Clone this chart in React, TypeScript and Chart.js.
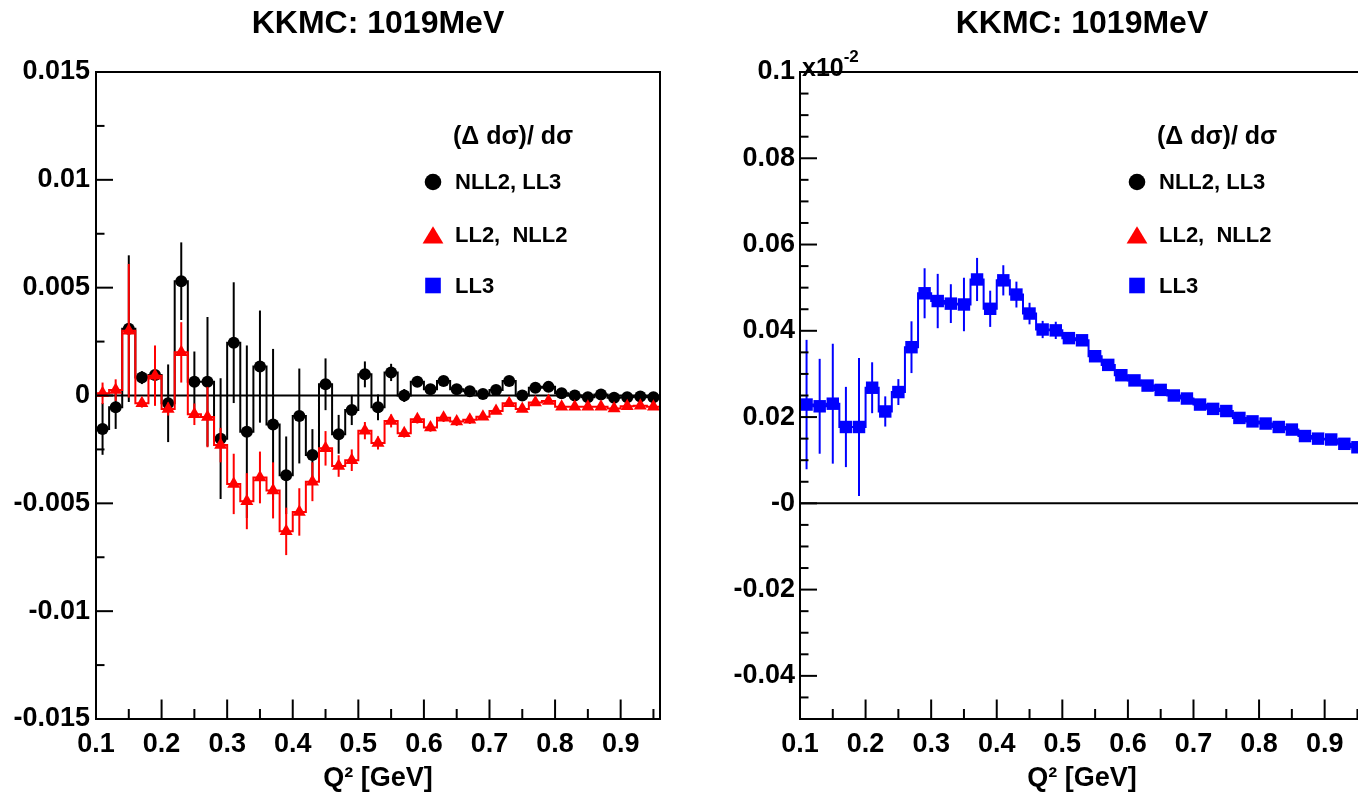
import React, { useEffect, useRef } from 'react';
import { Chart, registerables } from 'chart.js';

Chart.register(...registerables);

const FONT = '"Liberation Sans", Arial, Helvetica, sans-serif';

// ---------- data ----------
const TITLE = 'KKMC: 1019MeV';
const X_TITLE = 'Q\u00B2 [GeV]';
const LEGEND_HEADER = '(\u0394 d\u03C3)/ d\u03C3';
const LEGEND_ENTRIES = ['NLL2, LL3', 'LL2,  NLL2', 'LL3'];

const X_MIN = 0.1;
const X_MAX = 0.96;

const BIN_CENTERS = [
  0.11, 0.13, 0.15, 0.17, 0.19, 0.21, 0.23, 0.25, 0.27, 0.29,
  0.31, 0.33, 0.35, 0.37, 0.39, 0.41, 0.43, 0.45, 0.47, 0.49,
  0.51, 0.53, 0.55, 0.57, 0.59, 0.61, 0.63, 0.65, 0.67, 0.69,
  0.71, 0.73, 0.75, 0.77, 0.79, 0.81, 0.83, 0.85, 0.87, 0.89,
  0.91, 0.93, 0.95,
];

// NLL2, LL3 (black circles, left panel)
const NLL2_LL3 = [
  -0.00155, -0.00055, 0.0031, 0.00083, 0.00095, -0.00036, 0.0053, 0.00064, 0.00064, -0.002,
  0.00245, -0.00168, 0.00134, -0.00134, -0.0037, -0.00095, -0.00276, 0.00052, -0.0018, -0.00067,
  0.00098, -0.00055, 0.00107, 0.0, 0.00064, 0.00029, 0.00067, 0.00029, 0.0002, 0.00007,
  0.00025, 0.00067, 0.0, 0.00036, 0.0004, 0.0001, 0.0, -0.00008, 0.00005, -0.0001,
  -0.00008, -0.00005, -0.00008,
];
const NLL2_LL3_ERR = [
  0.0012, 0.001, 0.0034, 0.0003, 0.0002, 0.0018, 0.0018, 0.0014, 0.003, 0.0028,
  0.0028, 0.004, 0.0026, 0.0035, 0.0018, 0.0022, 0.0012, 0.0012, 0.0009, 0.0007,
  0.0006, 0.0006, 0.0004, 0.0003, 0.0002, 0.0002, 0.0002, 0.0002, 0.0002, 0.0002,
  0.0002, 0.0002, 0.0002, 0.0001, 0.0001, 0.0001, 0.0001, 0.0001, 0.0001, 0.0001,
  0.0001, 0.0001, 0.0001,
];

// LL2, NLL2 (red triangles, left panel)
const LL2_NLL2 = [
  0.0001, 0.00025, 0.003, -0.00036, 0.00092, -0.00063, 0.002, -0.00087, -0.001, -0.0023,
  -0.0041, -0.0049, -0.0038, -0.0044, -0.0063, -0.0054, -0.004, -0.00245, -0.00327, -0.003,
  -0.00163, -0.0022, -0.00118, -0.00175, -0.0011, -0.00148, -0.00103, -0.00121, -0.00112, -0.00098,
  -0.00072, -0.00036, -0.00063, -0.00032, -0.00026, -0.00052, -0.00052, -0.00052, -0.00052, -0.0006,
  -0.0005, -0.00047, -0.00052,
];
const LL2_NLL2_ERR = [
  0.0005, 0.0005, 0.0031, 0.0002, 0.0014, 0.0003, 0.0014, 0.0005, 0.0014, 0.0008,
  0.0014, 0.0013, 0.0012, 0.0013, 0.0011, 0.0011, 0.0009, 0.0008, 0.0005, 0.0005,
  0.0004, 0.0003, 0.0003, 0.0002, 0.0002, 0.0002, 0.0002, 0.0002, 0.0002, 0.0001,
  0.0001, 0.0001, 0.0001, 0.0001, 0.0001, 0.0001, 0.0001, 0.0001, 0.0001, 0.0001,
  0.0001, 0.0001, 0.0001,
];

// LL3 (blue squares, right panel, in units of 10^-2)
const LL3 = [
  0.0229, 0.0225, 0.0231, 0.0177, 0.0177, 0.0268, 0.0213, 0.0258, 0.0362, 0.0487,
  0.0469, 0.0463, 0.0461, 0.0519, 0.0451, 0.0517, 0.0484, 0.044, 0.0403, 0.0401,
  0.0383, 0.0378, 0.0341, 0.0321, 0.0297, 0.0285, 0.0273, 0.0263, 0.025, 0.0243,
  0.0229, 0.0219, 0.0214, 0.0198, 0.019, 0.0185, 0.0177, 0.0171, 0.0156, 0.015,
  0.0148, 0.0138, 0.013,
];
const LL3_ERR = [
  0.015, 0.011, 0.0139, 0.0093, 0.016, 0.0059, 0.0035, 0.003, 0.006, 0.0058,
  0.0063, 0.0045, 0.0062, 0.005, 0.0042, 0.0035, 0.003, 0.0025, 0.002, 0.002,
  0.0012, 0.001, 0.0008, 0.0008, 0.0008, 0.0008, 0.0008, 0.0008, 0.0008, 0.0008,
  0.0008, 0.0008, 0.0008, 0.0008, 0.0008, 0.0008, 0.0008, 0.0008, 0.0008, 0.0008,
  0.0008, 0.0008, 0.0008,
];

// ticks
const X_TICKS = [0.1, 0.15, 0.2, 0.25, 0.3, 0.35, 0.4, 0.45, 0.5, 0.55, 0.6, 0.65, 0.7, 0.75, 0.8, 0.85, 0.9, 0.95];
const X_LABEL_VALUES = [0.1, 0.2, 0.3, 0.4, 0.5, 0.6, 0.7, 0.8, 0.9];
const X_LABELS = ['0.1', '0.2', '0.3', '0.4', '0.5', '0.6', '0.7', '0.8', '0.9'];

const LEFT_Y_MIN = -0.015;
const LEFT_Y_MAX = 0.015;
const LEFT_Y_TICKS = [-0.015, -0.0125, -0.01, -0.0075, -0.005, -0.0025, 0, 0.0025, 0.005, 0.0075, 0.01, 0.0125, 0.015];
const LEFT_Y_LABEL_VALUES = [0.015, 0.01, 0.005, 0, -0.005, -0.01, -0.015];
const LEFT_Y_LABELS = ['0.015', '0.01', '0.005', '0', '-0.005', '-0.01', '-0.015'];

const RIGHT_Y_MIN = -0.05;
const RIGHT_Y_MAX = 0.1;
const RIGHT_Y_TICKS = [
  -0.05, -0.045, -0.04, -0.035, -0.03, -0.025, -0.02, -0.015, -0.01, -0.005,
  0, 0.005, 0.01, 0.015, 0.02, 0.025, 0.03, 0.035, 0.04, 0.045,
  0.05, 0.055, 0.06, 0.065, 0.07, 0.075, 0.08, 0.085, 0.09, 0.095, 0.1,
];
const RIGHT_Y_LABEL_VALUES = [0.1, 0.08, 0.06, 0.04, 0.02, 0, -0.02, -0.04];
const RIGHT_Y_LABELS = ['0.1', '0.08', '0.06', '0.04', '0.02', '-0', '-0.02', '-0.04'];
const RIGHT_EXPONENT_BASE = 'x10';
const RIGHT_EXPONENT_POWER = '-2';

// ---------- helpers ----------
function labelFor(v: number, vals: number[], labels: string[]): string {
  for (let i = 0; i < vals.length; i++) if (Math.abs(vals[i] - v) < 1e-9) return labels[i];
  return '';
}

function stepPoints(values: number[]) {
  const pts = BIN_CENTERS.map((x, i) => ({ x, y: values[i] }));
  return [{ x: X_MIN, y: values[0] }, ...pts, { x: X_MAX, y: values[values.length - 1] }];
}

type Series = { values: number[]; errors: number[]; color: string; pointStyle: string; radius: number };

type PanelCfg = {
  series: Series[];
  yMin: number;
  yMax: number;
  yTicks: number[];
  yLabelValues: number[];
  yLabels: string[];
  yAxisWidth: number;
  yPadding: number;
  padRight: number;
  exponent: boolean;
};

function drawMarker(ctx: CanvasRenderingContext2D, kind: string, cx: number, cy: number, color: string) {
  ctx.fillStyle = color;
  ctx.beginPath();
  if (kind === 'circle') {
    ctx.arc(cx, cy, 8.3, 0, Math.PI * 2);
  } else if (kind === 'triangle') {
    ctx.moveTo(cx, cy - 8.7);
    ctx.lineTo(cx + 10.4, cy + 8.5);
    ctx.lineTo(cx - 10.4, cy + 8.5);
    ctx.closePath();
  } else {
    ctx.rect(cx - 7.8, cy - 7.8, 15.6, 15.6);
  }
  ctx.fill();
}

function makeRootPlugin(p: PanelCfg) {
  return {
    id: 'rootStyle',
    beforeDatasetsDraw(chart: any) {
      const { ctx, chartArea: a, scales } = chart;
      const y0 = scales.y.getPixelForValue(0);
      ctx.save();
      ctx.strokeStyle = '#000';
      ctx.lineWidth = 2;
      ctx.beginPath();
      ctx.moveTo(a.left, y0);
      ctx.lineTo(a.right, y0);
      ctx.stroke();
      ctx.restore();
    },
    beforeDatasetDraw(chart: any, args: any) {
      const ds: any = chart.data.datasets[args.index];
      if (!ds.errors) return;
      const { ctx, chartArea: a, scales } = chart;
      ctx.save();
      ctx.beginPath();
      ctx.rect(a.left, a.top, a.right - a.left, a.bottom - a.top);
      ctx.clip();
      ctx.strokeStyle = ds.backgroundColor;
      ctx.lineWidth = 2;
      ds.data.forEach((pt: any, i: number) => {
        const e = ds.errors[i];
        const px = scales.x.getPixelForValue(pt.x);
        ctx.beginPath();
        ctx.moveTo(px, scales.y.getPixelForValue(pt.y - e));
        ctx.lineTo(px, scales.y.getPixelForValue(pt.y + e));
        ctx.stroke();
      });
      ctx.restore();
    },
    afterDraw(chart: any) {
      const { ctx, chartArea: a, scales } = chart;
      ctx.save();
      ctx.strokeStyle = '#000';
      ctx.lineWidth = 2;
      for (const v of p.yTicks) {
        const py = scales.y.getPixelForValue(v);
        const major = labelFor(v, p.yLabelValues, p.yLabels) !== '';
        const len = major ? 17 : 8.5;
        ctx.beginPath();
        ctx.moveTo(a.left, py);
        ctx.lineTo(a.left + len, py);
        ctx.stroke();
      }
      for (const v of X_TICKS) {
        const px = scales.x.getPixelForValue(v);
        const major = labelFor(v, X_LABEL_VALUES, X_LABELS) !== '';
        const len = major ? 19.5 : 10;
        ctx.beginPath();
        ctx.moveTo(px, a.bottom);
        ctx.lineTo(px, a.bottom - len);
        ctx.stroke();
      }
      ctx.strokeRect(a.left, a.top, a.right - a.left, a.bottom - a.top);

      // legend
      const L = a.left;
      ctx.fillStyle = '#000';
      ctx.textAlign = 'left';
      ctx.textBaseline = 'middle';
      ctx.font = `bold 25px ${FONT}`;
      ctx.fillText(LEGEND_HEADER, L + 357, 137);
      const kinds = ['circle', 'triangle', 'rect'];
      const colors = ['#000000', '#ff0000', '#0000ff'];
      const ys = [182, 235, 285.5];
      LEGEND_ENTRIES.forEach((t, i) => {
        drawMarker(ctx, kinds[i], L + 337, ys[i], colors[i]);
        ctx.fillStyle = '#000';
        ctx.font = `bold 22px ${FONT}`;
        ctx.fillText(t, L + 359, ys[i] + 1);
      });

      if (p.exponent) {
        ctx.textBaseline = 'alphabetic';
        ctx.font = `bold 25px ${FONT}`;
        ctx.fillText(RIGHT_EXPONENT_BASE, L + 2, 76);
        const w = ctx.measureText(RIGHT_EXPONENT_BASE).width;
        ctx.font = `bold 17px ${FONT}`;
        ctx.fillText(RIGHT_EXPONENT_POWER, L + 2 + w, 62);
      }
      ctx.restore();
    },
  };
}

function buildConfig(p: PanelCfg): any {
  const datasets: any[] = [];
  p.series.forEach((s, i) => {
    datasets.push({
      type: 'scatter',
      data: stepPoints(s.values),
      showLine: true,
      stepped: 'middle',
      borderColor: s.color,
      borderWidth: 2,
      pointRadius: 0,
      pointHoverRadius: 0,
      fill: false,
      order: 100 - 2 * i,
    });
    datasets.push({
      type: 'scatter',
      data: BIN_CENTERS.map((x, j) => ({ x, y: s.values[j] })),
      showLine: false,
      pointStyle: s.pointStyle,
      pointRadius: s.radius,
      pointHoverRadius: s.radius,
      backgroundColor: s.color,
      borderColor: s.color,
      borderWidth: 0,
      order: 99 - 2 * i,
      errors: s.errors,
    });
  });
  const tickFont = { family: FONT, size: 27, weight: 'bold' as const };
  return {
    type: 'scatter',
    data: { datasets },
    plugins: [makeRootPlugin(p)],
    options: {
      responsive: false,
      animation: false,
      devicePixelRatio: 1,
      events: [],
      layout: { padding: { left: 0, right: p.padRight, top: 0, bottom: 0 } },
      plugins: {
        legend: { display: false },
        tooltip: { enabled: false },
        title: {
          display: true,
          text: TITLE,
          color: '#000',
          fullSize: false,
          font: { family: FONT, size: 32, weight: 'bold' },
          padding: { top: 5, bottom: 28.6 },
        },
      },
      scales: {
        x: {
          type: 'linear',
          min: X_MIN,
          max: X_MAX,
          afterBuildTicks: (s: any) => {
            s.ticks = X_TICKS.map((v) => ({ value: v }));
          },
          afterFit: (s: any) => {
            s.height = 80;
          },
          grid: { display: false, drawTicks: false },
          border: { display: false },
          ticks: {
            autoSkip: false,
            maxRotation: 0,
            minRotation: 0,
            padding: 9,
            color: '#000',
            font: tickFont,
            callback: (v: any) => labelFor(Number(v), X_LABEL_VALUES, X_LABELS),
          },
          title: {
            display: true,
            text: X_TITLE,
            color: '#000',
            font: tickFont,
            padding: { top: 0, bottom: 4 },
          },
        },
        y: {
          type: 'linear',
          min: p.yMin,
          max: p.yMax,
          afterBuildTicks: (s: any) => {
            s.ticks = p.yTicks.map((v) => ({ value: v }));
          },
          afterFit: (s: any) => {
            s.width = p.yAxisWidth;
          },
          grid: { display: false, drawTicks: false },
          border: { display: false },
          ticks: {
            autoSkip: false,
            padding: p.yPadding,
            color: '#000',
            font: tickFont,
            callback: (v: any) => labelFor(Number(v), p.yLabelValues, p.yLabels),
          },
        },
      },
    },
  };
}

const LEFT_PANEL: PanelCfg = {
  series: [
    { values: NLL2_LL3, errors: NLL2_LL3_ERR, color: '#000000', pointStyle: 'circle', radius: 6 },
    { values: LL2_NLL2, errors: LL2_NLL2_ERR, color: '#ff0000', pointStyle: 'triangle', radius: 7.5 },
  ],
  yMin: LEFT_Y_MIN,
  yMax: LEFT_Y_MAX,
  yTicks: LEFT_Y_TICKS,
  yLabelValues: LEFT_Y_LABEL_VALUES,
  yLabels: LEFT_Y_LABELS,
  yAxisWidth: 96,
  yPadding: 6,
  padRight: 20,
  exponent: false,
};

const RIGHT_PANEL: PanelCfg = {
  series: [{ values: LL3, errors: LL3_ERR, color: '#0000ff', pointStyle: 'rect', radius: 8.8 }],
  yMin: RIGHT_Y_MIN,
  yMax: RIGHT_Y_MAX,
  yTicks: RIGHT_Y_TICKS,
  yLabelValues: RIGHT_Y_LABEL_VALUES,
  yLabels: RIGHT_Y_LABELS,
  yAxisWidth: 100,
  yPadding: 5,
  padRight: 16,
  exponent: true,
};

export default function App() {
  const leftRef = useRef<HTMLCanvasElement>(null);
  const rightRef = useRef<HTMLCanvasElement>(null);

  useEffect(() => {
    Chart.defaults.font.family = FONT;
    Chart.defaults.color = '#000';
    const c1 = new Chart(leftRef.current as HTMLCanvasElement, buildConfig(LEFT_PANEL));
    const c2 = new Chart(rightRef.current as HTMLCanvasElement, buildConfig(RIGHT_PANEL));
    return () => {
      c1.destroy();
      c2.destroy();
    };
  }, []);

  return (
    <div
      style={{
        position: 'fixed',
        left: 0,
        top: 0,
        width: 1358,
        height: 799,
        overflow: 'hidden',
        background: '#ffffff',
      }}
    >
      <canvas
        ref={leftRef}
        width={680}
        height={799}
        style={{ position: 'absolute', left: 0, top: 0, width: 680, height: 799 }}
      />
      <canvas
        ref={rightRef}
        width={680}
        height={799}
        style={{ position: 'absolute', left: 700, top: 0, width: 680, height: 799 }}
      />
    </div>
  );
}
